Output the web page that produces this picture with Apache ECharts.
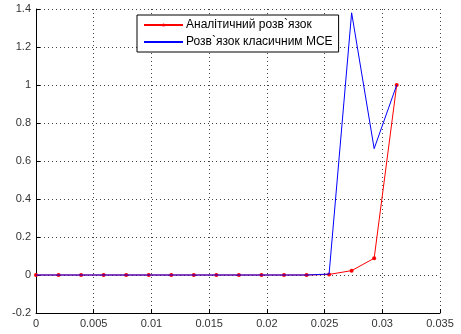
<!DOCTYPE html>
<html>
<head>
<meta charset="utf-8">
<script src="https://cdn.jsdelivr.net/npm/echarts@6/dist/echarts.min.js"></script>
<style>
  html, body { margin: 0; padding: 0; background: #fff; }
  #chart { width: 461px; height: 334px; }
</style>
</head>
<body>
<div id="chart"></div>
<script>
// mesh nodes (x) and the two solutions at those nodes
var xNodes = [0, 0.001953, 0.003906, 0.005859, 0.007813, 0.009766, 0.011719, 0.013672,
              0.015625, 0.017578, 0.019531, 0.021484, 0.023438, 0.025391, 0.027344,
              0.029297, 0.03125];
var analytic = [0, 0, 0, 0, 0, 0, 0, 0, 0, 0, 0, 0, 0, 0.003, 0.023, 0.088, 1.0];
var fem      = [0, 0, 0, 0, 0, 0, 0, 0, 0, 0, 0, 0, 0, 0.005, 1.38, 0.665, 1.0];
var xTicks = { min: 0, max: 0.035, step: 0.005 };
var yTicks = { min: -0.2, max: 1.4, step: 0.2 };
var names = ['Аналітичний розв`язок', 'Розв`язок класичним МСЕ'];

function pairs(xs, ys) {
  return xs.map(function (x, i) { return [x, ys[i]]; });
}

var font = '"Liberation Sans", Arial, sans-serif';
var gridLine = { show: true, lineStyle: { color: '#444', type: [1, 3], width: 1 } };

var chart = echarts.init(document.getElementById('chart'), null, { renderer: 'canvas' });
chart.setOption({
  animation: false,
  backgroundColor: '#fff',
  grid: { left: 36, right: 21, top: 9, bottom: 21, containLabel: false },
  legend: {
    left: 137, top: 15,
    orient: 'vertical',
    itemWidth: 39, itemHeight: 4, itemGap: 5,
    padding: [4, 6, 4, 6],
    borderColor: '#000', borderWidth: 1, backgroundColor: '#fff',
    textStyle: { fontFamily: font, fontSize: 12, color: '#000', padding: [0, 0, 0, -2] },
    data: [
      { name: names[0] },
      { name: names[1], itemStyle: { opacity: 0 } }
    ]
  },
  xAxis: {
    type: 'value',
    min: xTicks.min, max: xTicks.max, interval: xTicks.step,
    axisLine: { show: true, onZero: false, lineStyle: { color: '#000', width: 1 } },
    axisTick: { show: true, inside: true, length: 4, lineStyle: { color: '#000' } },
    axisLabel: { fontFamily: font, fontSize: 11, color: '#333', margin: 5,
                 formatter: function (v) { return String(+v.toFixed(3)); } },
    splitLine: gridLine
  },
  yAxis: {
    type: 'value',
    min: yTicks.min, max: yTicks.max, interval: yTicks.step,
    axisLine: { show: true, onZero: false, lineStyle: { color: '#000', width: 1 } },
    axisTick: { show: true, inside: true, length: 4, lineStyle: { color: '#000' } },
    axisLabel: { fontFamily: font, fontSize: 11, color: '#333', margin: 5,
                 formatter: function (v) { return String(+v.toFixed(1)); } },
    splitLine: gridLine
  },
  series: [
    {
      name: names[0], type: 'line', data: pairs(xNodes, analytic),
      symbol: 'circle', symbolSize: 4, showSymbol: true,
      lineStyle: { color: '#ff0000', width: 1 },
      itemStyle: { color: '#ff0000' },
      z: 2
    },
    {
      name: names[1], type: 'line', data: pairs(xNodes, fem),
      symbol: 'none',
      lineStyle: { color: '#0000ff', width: 1 },
      itemStyle: { color: '#0000ff' },
      z: 3
    }
  ]
});
</script>
</body>
</html>
